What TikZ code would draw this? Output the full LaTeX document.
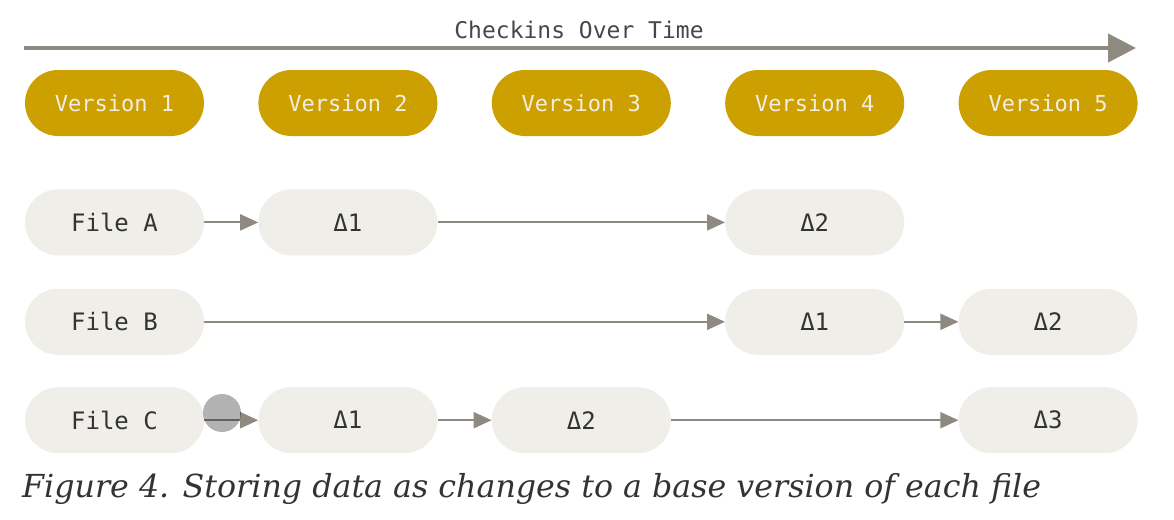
\documentclass[tikz,border=0pt]{standalone}
\usepackage{fontspec}
\setmonofont{DejaVu Sans Mono}
\newfontfamily\capfont{DejaVu Serif}
\usepackage{tikz}
\usetikzlibrary{arrows.meta, positioning}
\definecolor{gold}{HTML}{CCA000}
\definecolor{pale}{HTML}{EFEEE8}
\definecolor{ink}{HTML}{333333}
\definecolor{wire}{HTML}{8F8A80}
\definecolor{cream}{HTML}{F3EEE0}
\tikzstyle{pill}=[rectangle, rounded corners=33pt, minimum width=179pt, minimum height=66pt, inner sep=0pt]
\tikzstyle{version}=[pill, fill=gold, text=cream, font=\ttfamily\fontsize{22}{22}\selectfont]
\tikzstyle{cell}=[pill, fill=pale, text=ink, font=\ttfamily\fontsize{24}{24}\selectfont]
\tikzstyle{delta}=[-{Triangle[length=18pt,width=16pt]}, draw=wire, fill=wire, line width=2pt]

\begin{document}
\begin{tikzpicture}[x=1pt, y=-1pt]
    \useasboundingbox (0,0) rectangle (1174,519);

    % time line
    \coordinate (t0) at (24,48);
    \coordinate (t1) at (1136,48);
    \draw [-{Triangle[length=28pt,width=28pt]}, draw=wire, fill=wire, line width=4pt] (t0) -- (t1);
    \node (title) at (579,30) [text=ink!90, font=\ttfamily\fontsize{23}{23}\selectfont] {Checkins Over Time};

    % versions
    \node [version] (v1) at (114.5,103) {Version 1};
    \node [version] (v2) [right=54pt of v1] {Version 2};
    \node [version] (v3) [right=54pt of v2] {Version 3};
    \node [version] (v4) [right=54pt of v3] {Version 4};
    \node [version] (v5) [right=54pt of v4] {Version 5};

    % files
    \node [cell] (fa) [below=53pt of v1] {File A};
    \node [cell] (fb) [below=33pt of fa] {File B};
    \node [cell] (fc) [below=32pt of fb] {File C};

    \node [cell] (a1) at (v2 |- fa) {Δ1};
    \node [cell] (a2) at (v4 |- fa) {Δ2};
    \node [cell] (b1) at (v4 |- fb) {Δ1};
    \node [cell] (b2) at (v5 |- fb) {Δ2};
    \node [cell] (c1) at (v2 |- fc) {Δ1};
    \node [cell] (c2) at (v3 |- fc) {Δ2};
    \node [cell] (c3) at (v5 |- fc) {Δ3};

    \draw [delta] (fa) -- (a1);
    \draw [delta] (a1) -- (a2);
    \draw [delta] (fb) -- (b1);
    \draw [delta] (b1) -- (b2);
    \draw [delta] (fc) -- (c1);
    \draw [delta] (c1) -- (c2);
    \draw [delta] (c2) -- (c3);

    \node (cdot) at (222,413) [circle, minimum size=38pt, inner sep=0pt, fill=black, fill opacity=0.3] {};

    % caption
    \node (caption) at (22,497) [anchor=base west, inner sep=0pt, text=ink, font=\capfont\itshape\fontsize{31.7}{32}\selectfont] {Figure 4. Storing data as changes to a base version of each file};
\end{tikzpicture}
\end{document}
